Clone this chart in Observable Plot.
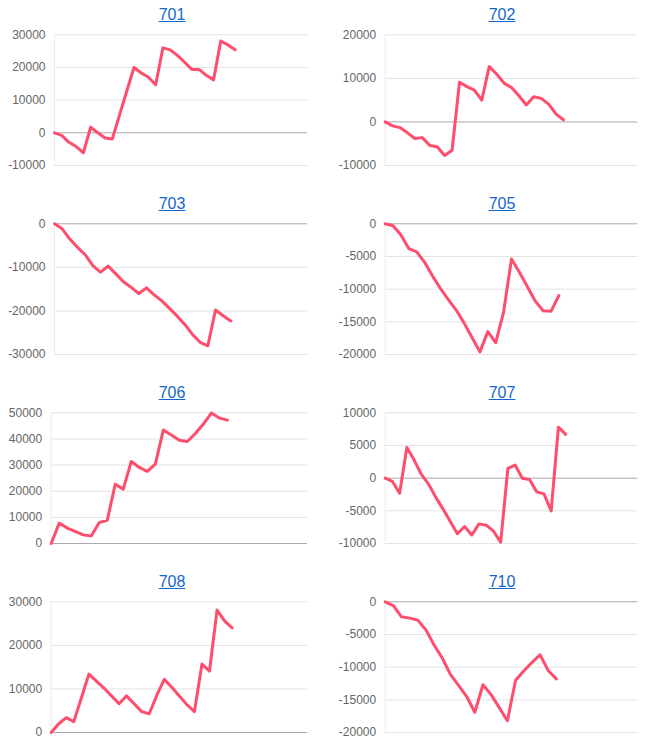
<!DOCTYPE html>
<html><head><meta charset="utf-8">
<script src="https://cdn.jsdelivr.net/npm/d3@7"></script>
<script src="https://cdn.jsdelivr.net/npm/@observablehq/plot@0.6"></script>
<style>
body{margin:0;background:#fff;font-family:"Liberation Sans",Arial,sans-serif;}
#grid{position:relative;width:666px;height:744px;}
.panel{position:absolute;width:333px;height:189px;}
.panel a{position:absolute;top:7px;font-size:16px;line-height:16px;color:#1467cc;text-decoration:underline;transform:translateX(-50%);white-space:nowrap;font-family:"Liberation Sans",Arial,sans-serif;}
.panel svg{position:absolute;left:0;top:0;}
</style></head><body><div id="grid"></div>
<script>
// Panel titles
const symbols = ["701", "702", "703", "705", "706", "707", "708", "710"];

// Series values (cumulative), one array per panel
const s701 = [0, -800, -2900, -4200, -6100, 1700, 0, -1600, -1900, 5500, 12800, 20000, 18300, 17000, 14700, 26000, 25400, 23700, 21600, 19400, 19400, 17600, 16200, 28100, 26900, 25400];
const s702 = [0, -900, -1300, -2500, -3800, -3600, -5400, -5700, -7700, -6500, 9100, 8100, 7300, 5000, 12700, 11000, 8900, 7900, 6000, 3900, 5800, 5400, 4100, 1800, 500];
const s703 = [0, -1150, -3500, -5400, -7100, -9600, -11100, -9700, -11500, -13300, -14600, -16000, -14700, -16300, -17700, -19400, -21200, -23100, -25400, -27200, -28000, -19800, -21100, -22300];
const s705 = [0, -300, -1700, -3800, -4300, -5900, -8000, -9900, -11600, -13200, -15200, -17400, -19600, -16500, -18200, -13500, -5400, -7400, -9600, -11800, -13300, -13400, -11000];
const s706 = [0, 7800, 5900, 4600, 3300, 2900, 8000, 8900, 22700, 20800, 31400, 29100, 27600, 30400, 43400, 41500, 39500, 39000, 42100, 45700, 49900, 48000, 47200];
const s707 = [0, -500, -2300, 4700, 2800, 600, -900, -2900, -4700, -6600, -8500, -7400, -8700, -7000, -7200, -8100, -9800, 1500, 2000, 0, -200, -2100, -2400, -5000, 7800, 6700];
const s708 = [0, 2000, 3400, 2500, 7900, 13400, 11800, 10200, 8400, 6600, 8400, 6600, 4800, 4300, 8500, 12200, 10400, 8400, 6400, 4800, 15700, 14100, 28100, 25600, 24000];
const s710 = [0, -600, -2300, -2500, -2800, -4300, -6600, -8600, -11100, -12800, -14500, -16900, -12700, -14200, -16200, -18200, -12000, -10600, -9300, -8100, -10500, -11800];

// Y tick labels per panel
const t701 = [-10000, 0, 10000, 20000, 30000];
const t702 = [-10000, 0, 10000, 20000];
const t703 = [-30000, -20000, -10000, 0];
const t705 = [-20000, -15000, -10000, -5000, 0];
const t706 = [0, 10000, 20000, 30000, 40000, 50000];
const t707 = [-10000, -5000, 0, 5000, 10000];
const t708 = [0, 10000, 20000, 30000];
const t710 = [-20000, -15000, -10000, -5000, 0];

const seriesList = [s701, s702, s703, s705, s706, s707, s708, s710];
const tickList = [t701, t702, t703, t705, t706, t707, t708, t710];

// layout (not data)
const marginLefts = [54, 51.7, 54, 51.7, 50.7, 51.7, 50.7, 51.7];

const grid = document.getElementById("grid");
symbols.forEach((sym, k) => {
  const col = k % 2, row = Math.floor(k / 2);
  const panel = document.createElement("div");
  panel.className = "panel";
  panel.style.left = (col * 333) + "px";
  panel.style.top = (row * 189) + "px";

  const vals = seriesList[k];
  const ticks = tickList[k];
  const data = vals.map((v, i) => ({i, v}));
  const svg = Plot.plot({
    width: 333,
    height: 189,
    marginTop: 34.3,
    marginBottom: 24,
    marginLeft: marginLefts[k],
    marginRight: col === 0 ? 26 : 28.7,
    x: {domain: [0, vals.length + 9], axis: null},
    y: {domain: [ticks[0], ticks[ticks.length - 1]], axis: null},
    style: {fontFamily: "'Liberation Sans', Arial, sans-serif", fontSize: "12px", color: "#666", background: "transparent", overflow: "visible"},
    marks: [
      Plot.ruleY(ticks.filter(t => t !== 0), {stroke: "#e3e3e3", strokeWidth: 1}),
      Plot.ruleX([0], {stroke: "#ececec", strokeWidth: 1}),
      Plot.ruleY([0], {stroke: "#a8a8a8", strokeWidth: 1}),
      Plot.axisY(ticks, {tickSize: 0, tickPadding: 9, tickFormat: d => String(d), label: null, fill: "#666"}),
      Plot.lineY(data, {x: "i", y: "v", stroke: "#ff4d6d", strokeWidth: 3, strokeLinejoin: "round", strokeLinecap: "round"})
    ]
  });
  panel.appendChild(svg);

  const a = document.createElement("a");
  a.href = "#";
  a.textContent = sym;
  a.style.left = (col === 0 ? 172 : 169) + "px";
  panel.appendChild(a);

  grid.appendChild(panel);
});
</script>
</body></html>
